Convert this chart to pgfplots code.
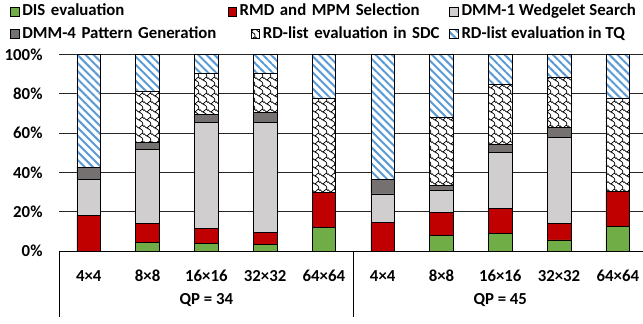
\documentclass[border=0pt]{standalone}
\usepackage{fontspec}
\setmainfont{Carlito}
\usepackage{pgfplots}
\pgfplotsset{compat=1.18}
\usepackage{pgfplotstable}
\usetikzlibrary{patterns,patterns.meta}

\definecolor{disgreen}{RGB}{112,173,71}
\definecolor{rmdred}{RGB}{192,0,0}
\definecolor{dmmone}{RGB}{208,206,206}
\definecolor{dmmfour}{RGB}{118,113,113}
\definecolor{tqblue}{RGB}{91,155,213}

\newcommand{\fsz}{\bfseries\fontsize{16.8}{19}\selectfont}

% shingle-like pattern (8x8 tile)
\pgfdeclarepatternformonly{sdcwave}{\pgfqpoint{0pt}{0pt}}{\pgfqpoint{8pt}{8pt}}{\pgfqpoint{8pt}{8pt}}{%
  \pgfsetlinewidth{0.8pt}%
  \pgfsetroundjoin
  \pgfsetcornersarced{\pgfqpoint{0.8pt}{0.8pt}}%
  \pgfpathmoveto{\pgfqpoint{-1.5pt}{7.5pt}}%
  \pgfpathlineto{\pgfqpoint{-0.5pt}{7.5pt}}%
  \pgfpathlineto{\pgfqpoint{2.5pt}{4.5pt}}%
  \pgfpathlineto{\pgfqpoint{3.5pt}{4.5pt}}%
  \pgfpathlineto{\pgfqpoint{6.5pt}{7.5pt}}%
  \pgfpathlineto{\pgfqpoint{7.5pt}{7.5pt}}%
  \pgfpathlineto{\pgfqpoint{10.5pt}{4.5pt}}%
  \pgfpathmoveto{\pgfqpoint{3.5pt}{4.5pt}}%
  \pgfpathlineto{\pgfqpoint{4.5pt}{3.5pt}}%
  \pgfpathlineto{\pgfqpoint{5.5pt}{3.5pt}}%
  \pgfpathlineto{\pgfqpoint{7.5pt}{1.5pt}}%
  \pgfpathlineto{\pgfqpoint{7.5pt}{-0.5pt}}%
  \pgfpathmoveto{\pgfqpoint{7.5pt}{9.5pt}}%
  \pgfpathlineto{\pgfqpoint{7.5pt}{7.5pt}}%
  \pgfpathmoveto{\pgfqpoint{-0.5pt}{9.5pt}}%
  \pgfpathlineto{\pgfqpoint{-0.5pt}{7.5pt}}%
  \pgfusepath{stroke}%
}

\pgfplotstableread{
x DIS RMD DMMone DMMfour SDC TQ
0 0    18.0 18.4 6.1 0    57.5
1 4.4  9.5  37.8 3.6 26.1 18.6
2 3.9  7.6  53.8 4.2 20.7 9.8
3 3.4  5.9  56.0 5.0 19.9 9.8
4 11.9 17.9 0    0   48.0 22.2
5 0    14.4 14.6 7.4 0    63.6
6 8.0  11.7 11.3 2.4 34.6 32.0
7 9.0  12.5 28.8 4.1 30.3 15.3
8 5.6  8.5  43.7 5.1 25.6 11.5
9 12.7 17.5 0    0   47.6 22.2
}\data

\tikzset{
  sdcstyle/.style={fill=white, postaction={pattern=sdcwave, pattern color=black}},
  tqstyle/.style={fill=white, postaction={pattern={Lines[angle=-45,distance=5.7pt,line width=2pt]}, pattern color=tqblue}},
}

\begin{document}
\begin{tikzpicture}
\begin{axis}[
  at={(59.4pt,73pt)}, anchor=south west,
  scale only axis, width=587.8pt, height=196.7pt,
  ybar stacked, bar width=23.7pt,
  xmin=-0.5, xmax=9.5, ymin=0, ymax=100,
  axis line style={draw=none},
  ymajorgrids, grid style={black!85, line width=0.8pt},
  ytick={0,20,...,100}, yticklabels={0\%,20\%,40\%,60\%,80\%,100\%},
  xtick={0,...,9},
  xticklabels={4×4,8×8,16×16,32×32,64×64,4×4,8×8,16×16,32×32,64×64},
  major tick length=0pt, tick style={draw=none},
  yticklabel style={anchor=east, inner sep=0pt, xshift=-16.7pt},
  xticklabel style={anchor=base, inner sep=0pt, yshift=-30.7pt},
  tick label style={font=\fsz},
  clip=false,
  legend image code/.code={\draw[#1,draw=black,line width=0.6pt] (0pt,-5.5pt) rectangle (8.5pt,3pt);},
  legend columns=3,
  legend cell align=left,
  legend style={draw=none, fill=none, inner sep=0pt,
    at={(axis description cs:-0.0840,1.2227)}, anchor=west, font=\fsz,
    nodes={inner sep=0pt, text height=11pt, text depth=0pt},
    /tikz/every odd column/.style={column sep=3pt},
    /tikz/column 2/.style={nodes={text width=205.2pt, align=left}},
    /tikz/column 4/.style={nodes={text width=209.8pt, align=left}}},
]
\addplot[fill=disgreen, draw=black, line width=0.6pt] table[x=x,y=DIS]{\data};
\addplot[fill=rmdred, draw=black, line width=0.6pt] table[x=x,y=RMD]{\data};
\addplot[fill=dmmone, draw=black, line width=0.6pt] table[x=x,y=DMMone]{\data};
\addplot[fill=dmmfour, draw=black, line width=0.6pt] table[x=x,y=DMMfour]{\data};
\addplot[sdcstyle, draw=black, line width=0.6pt] table[x=x,y=SDC]{\data};
\addplot[tqstyle, draw=black, line width=0.6pt] table[x=x,y=TQ]{\data};
\legend{DIS evaluation, RMD and MPM Selection, DMM-1 Wedgelet Search}
\draw[black, line width=0.8pt] (axis cs:-0.5,0) -- (axis cs:9.5,0);
\draw[black, line width=0.8pt] (axis cs:-0.5,0) -- ++(0pt,-66pt);
\draw[black, line width=0.8pt] (axis cs:4.5,0) -- ++(0pt,-66pt);
\node[font=\fsz, anchor=base, inner sep=0pt] at ([yshift=-53.5pt]axis cs:2,0) {QP = 34};
\node[font=\fsz, anchor=base, inner sep=0pt] at ([yshift=-53.5pt]axis cs:7,0) {QP = 45};
\end{axis}
\begin{axis}[
  at={(59.4pt,73pt)}, anchor=south west,
  scale only axis, width=587.8pt, height=196.7pt,
  xmin=-0.5, xmax=9.5, ymin=0, ymax=100,
  hide axis,
  legend image code/.code={\draw[#1,draw=black,line width=0.6pt] (0pt,-5.5pt) rectangle (8.5pt,3pt);},
  legend columns=3,
  legend cell align=left,
  legend style={draw=none, fill=none, inner sep=0pt,
    at={(axis description cs:-0.0840,1.1093)}, anchor=west, font=\fsz,
    nodes={inner sep=0pt, text height=11pt, text depth=0pt},
    /tikz/every odd column/.style={column sep=3pt},
    /tikz/column 2/.style={nodes={text width=228.5pt, align=left}},
    /tikz/column 4/.style={nodes={text width=186.5pt, align=left}}},
]
\addlegendimage{fill=dmmfour}
\addlegendimage{sdcstyle}
\addlegendimage{tqstyle}
\legend{DMM-4 Pattern Generation, RD-list evaluation in SDC, RD-list evaluation in TQ}
\end{axis}
\pgfresetboundingbox
\path[use as bounding box] (0,0) rectangle (643pt,324pt);
\end{tikzpicture}
\end{document}
